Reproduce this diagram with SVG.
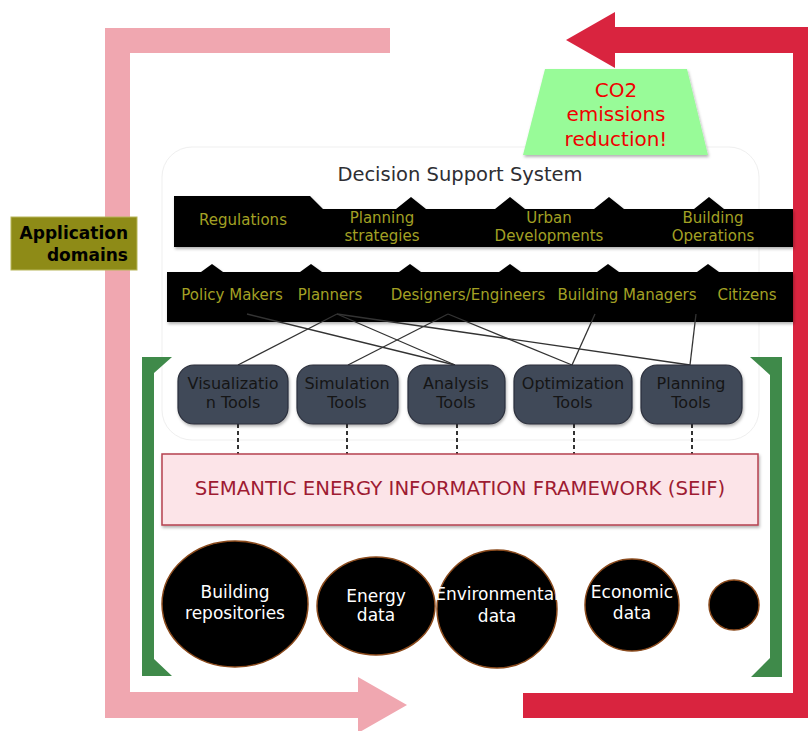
<svg xmlns="http://www.w3.org/2000/svg" width="808" height="731" viewBox="0 0 808 731">
<defs>
<filter id="sh" x="-10%" y="-10%" width="130%" height="140%">
<feDropShadow dx="1" dy="2" stdDeviation="1.5" flood-color="#000" flood-opacity="0.3"/>
</filter>
<style>
.band{fill:#000;filter:url(#sh)}
.bt{font-family:"DejaVu Sans",Verdana,sans-serif;font-size:15px;fill:#a3a024;text-anchor:middle}
.tool{fill:#414859;stroke:#2a2f3b;stroke-width:1.2;filter:url(#sh)}
.tt{font-family:"DejaVu Sans",Verdana,sans-serif;font-size:16px;fill:#151515;text-anchor:middle}
.conn{stroke:#333;stroke-width:1.3;fill:none}
.dash{stroke:#333;stroke-width:2;stroke-dasharray:4 3;fill:none}
.data{fill:#000;stroke:#8a4a1c;stroke-width:1.5}
.dt{font-family:"DejaVu Sans",Verdana,sans-serif;font-size:17px;fill:#fff;text-anchor:middle}
.green{fill:#3f8a4a}
</style>
</defs>
<rect width="808" height="731" fill="#fff"/>

<g id="pink-arrow"><path d="M105,28 L390,28 L390,53 L130,53 L130,692 L358,692 L358,677 L407,705 L358,733 L358,718 L105,718 Z" fill="#f0a7b0"/></g>
<g id="red-arrow"><path d="M566,40 L615,12 L615,27 L808,27 L808,718 L523,718 L523,693 L793,693 L793,53 L615,53 L615,68 Z" fill="#d9243f"/></g>

<g id="dss-container"><rect x="162" y="147" width="597" height="293" rx="30" fill="#fff" stroke="#efefef"/></g>

<g id="co2"><path d="M545,69 L687,69 L708,155 L523,155 Z" fill="#98fb98" filter="url(#sh)"/>
<text font-family="DejaVu Sans,Verdana,sans-serif" font-size="20" fill="#f00000" text-anchor="middle"><tspan x="616" y="97">CO2</tspan><tspan x="616" y="121">emissions</tspan><tspan x="616" y="146">reduction!</tspan></text></g>

<g id="app-domains"><rect x="11" y="217" width="126" height="53" fill="#8e8b17" stroke="#b8b65a" stroke-width="1"/>
<text font-family="DejaVu Sans,Verdana,sans-serif" font-size="17" font-weight="bold" fill="#000" text-anchor="end"><tspan x="128" y="239">Application</tspan><tspan x="128" y="261">domains</tspan></text></g>

<g id="dss-title"><text x="460" y="181" font-family="DejaVu Sans,Verdana,sans-serif" font-size="19.5" fill="#2e2e33" text-anchor="middle">Decision Support System</text></g>

<g id="domains-band">
<path class="band" d="M174,196 L310,196 L323,209 L396,209 L411,197 L426,209 L495,209 L510,197 L525,209 L594,209 L609,197 L624,209 L694,209 L709,197 L724,209 L793,209 L793,247 L174,247 Z"/>
<text class="bt" x="243" y="225">Regulations</text>
<text class="bt"><tspan x="382" y="223">Planning</tspan><tspan x="382" y="241">strategies</tspan></text>
<text class="bt"><tspan x="549" y="223">Urban</tspan><tspan x="549" y="241">Developments</tspan></text>
<text class="bt"><tspan x="713" y="223">Building</tspan><tspan x="713" y="241">Operations</tspan></text>
</g>

<g id="stakeholders-band">
<path class="band" d="M167,272 L201,272 L212,264 L223,272 L300,272 L311,264 L322,272 L399,272 L410,264 L421,272 L499,272 L510,264 L521,272 L597,272 L608,264 L619,272 L697,272 L708,264 L719,272 L793,272 L793,322 L167,322 Z"/>
<text class="bt" x="232" y="300">Policy Makers</text>
<text class="bt" x="330" y="300">Planners</text>
<text class="bt" x="468" y="300">Designers/Engineers</text>
<text class="bt" x="627" y="300">Building Managers</text>
<text class="bt" x="747" y="300">Citizens</text>
</g>

<g id="connectors">
<line class="conn" x1="247" y1="314" x2="455" y2="365"/>
<line class="conn" x1="337" y1="314" x2="238" y2="365"/>
<line class="conn" x1="337" y1="314" x2="455" y2="365"/>
<line class="conn" x1="337" y1="314" x2="690" y2="365"/>
<line class="conn" x1="448" y1="314" x2="348" y2="365"/>
<line class="conn" x1="448" y1="314" x2="572" y2="365"/>
<line class="conn" x1="595" y1="314" x2="572" y2="365"/>
<line class="conn" x1="696" y1="314" x2="690" y2="365"/>
<line class="dash" x1="238" y1="424" x2="238" y2="454"/>
<line class="dash" x1="347" y1="424" x2="347" y2="454"/>
<line class="dash" x1="457" y1="424" x2="457" y2="454"/>
<line class="dash" x1="574" y1="424" x2="574" y2="454"/>
<line class="dash" x1="692" y1="424" x2="692" y2="454"/>
</g>

<g id="tool-visualization"><rect class="tool" x="178" y="365" width="110" height="59" rx="16"/><text class="tt"><tspan x="233" y="389">Visualizatio</tspan><tspan x="233" y="408">n Tools</tspan></text></g>
<g id="tool-simulation"><rect class="tool" x="297" y="365" width="101" height="59" rx="16"/><text class="tt"><tspan x="347" y="389">Simulation</tspan><tspan x="347" y="408">Tools</tspan></text></g>
<g id="tool-analysis"><rect class="tool" x="408" y="365" width="97" height="59" rx="16"/><text class="tt"><tspan x="456" y="389">Analysis</tspan><tspan x="456" y="408">Tools</tspan></text></g>
<g id="tool-optimization"><rect class="tool" x="514" y="365" width="118" height="59" rx="16"/><text class="tt"><tspan x="573" y="389">Optimization</tspan><tspan x="573" y="408">Tools</tspan></text></g>
<g id="tool-planning"><rect class="tool" x="641" y="365" width="101" height="59" rx="16"/><text class="tt"><tspan x="691" y="389">Planning</tspan><tspan x="691" y="408">Tools</tspan></text></g>

<g id="seif"><rect x="162" y="454" width="596" height="71" fill="#fce4e8" stroke="#b5404f" stroke-width="1.5" filter="url(#sh)"/>
<text x="460" y="495" font-family="DejaVu Sans,Verdana,sans-serif" font-size="19.7" fill="#9e1b32" text-anchor="middle">SEMANTIC ENERGY INFORMATION FRAMEWORK (SEIF)</text></g>

<g id="bracket-left"><path class="green" d="M142,357 L172,357 L154,373 L154,659 L172,676 L142,676 Z"/></g>
<g id="bracket-right"><path class="green" d="M782,357 L750,357 L770,375 L770,658 L751,677 L782,677 Z"/></g>

<g id="data-building"><ellipse class="data" cx="235" cy="604" rx="73" ry="63"/><text class="dt"><tspan x="235" y="598">Building</tspan><tspan x="235" y="619">repositories</tspan></text></g>
<g id="data-energy"><ellipse class="data" cx="376" cy="606" rx="59" ry="49"/><text class="dt"><tspan x="376" y="602">Energy</tspan><tspan x="376" y="621">data</tspan></text></g>
<g id="data-environmental"><ellipse class="data" cx="497" cy="609" rx="60" ry="59"/><text class="dt"><tspan x="497" y="600">Environmental</tspan><tspan x="497" y="622">data</tspan></text></g>
<g id="data-economic"><ellipse class="data" cx="632" cy="605" rx="47" ry="46"/><text class="dt"><tspan x="632" y="598">Economic</tspan><tspan x="632" y="619">data</tspan></text></g>
<g id="data-other"><circle class="data" cx="734" cy="605" r="25"/></g>
</svg>
